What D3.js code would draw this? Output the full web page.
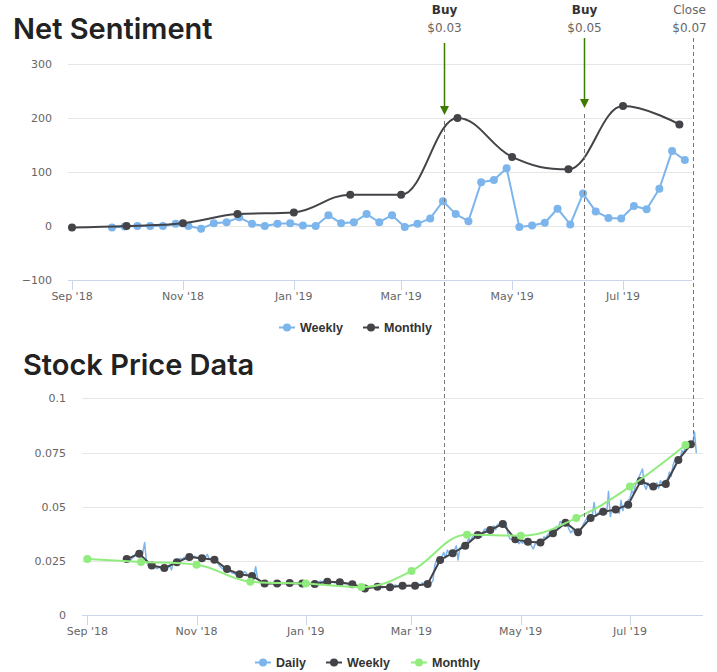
<!DOCTYPE html>
<html><head><meta charset="utf-8">
<script src="https://cdn.jsdelivr.net/npm/d3@7"></script>
<style>body{margin:0;background:#fff}svg{display:block}</style>
</head><body>
<svg id="c" width="717" height="672"></svg>
<script>
// ---------- DATA ----------
const monthDates = ["2018-09-01","2018-10-01","2018-11-01","2018-12-01","2019-01-01","2019-02-01","2019-03-01","2019-04-01","2019-05-01","2019-06-01","2019-07-01","2019-08-01"];
const sentimentMonthly = [-3, 0, 5, 22, 25, 58, 58, 200, 128, 105, 222, 188];
const weeklyStart = "2018-09-23";
const sentimentWeekly = [-3,-1,0,0,0,4,0,-5,5,7,16,4,0,4,5,1,0,20,5,7,22,7,20,-2,4,14,46,22,9,81,85,107,-2,1,6,32,3,60,27,15,14,37,31,69,139,122];
const priceMonthly = [0.0259,0.0246,0.0233,0.0155,0.0146,0.0130,0.0204,0.0371,0.0367,0.0448,0.0593,0.0785];
const priceWeekly = [0.0259,0.0284,0.0229,0.0218,0.0244,0.0269,0.0263,0.0256,0.0213,0.0189,0.0181,0.0147,0.0147,0.0149,0.0146,0.0144,0.0155,0.0152,0.0143,0.0124,0.0132,0.0129,0.0136,0.0136,0.0144,0.0255,0.0286,0.0320,0.0370,0.0393,0.0421,0.0350,0.0339,0.0335,0.0378,0.0427,0.0383,0.0448,0.0477,0.0487,0.0510,0.0619,0.0593,0.0605,0.0716,0.0788];
const dailyStart = "2018-09-24";
const priceDaily = [
 0.0255,0.0252,0.0262,0.0270,0.0284,
 0.0270,0.0290,0.0335,0.0250,0.0229,
 0.0226,0.0220,0.0215,0.0222,0.0218,
 0.0212,0.0220,0.0228,0.0209,0.0244,
 0.0250,0.0262,0.0258,0.0266,0.0269,
 0.0265,0.0270,0.0272,0.0266,0.0263,
 0.0262,0.0268,0.0281,0.0262,0.0256,
 0.0250,0.0238,0.0226,0.0218,0.0213,
 0.0208,0.0200,0.0195,0.0192,0.0189,
 0.0190,0.0196,0.0201,0.0192,0.0181,
 0.0183,0.0224,0.0172,0.0160,0.0147,
 0.0150,0.0146,0.0152,0.0149,0.0147,
 0.0148,0.0152,0.0150,0.0147,0.0149,
 0.0150,0.0148,0.0145,0.0147,0.0146,
 0.0145,0.0148,0.0150,0.0143,0.0144,
 0.0147,0.0152,0.0158,0.0153,0.0155,
 0.0156,0.0150,0.0154,0.0149,0.0152,
 0.0150,0.0147,0.0145,0.0146,0.0143,
 0.0140,0.0136,0.0130,0.0127,0.0124,
 0.0126,0.0130,0.0128,0.0133,0.0132,
 0.0134,0.0130,0.0127,0.0131,0.0129,
 0.0131,0.0135,0.0140,0.0133,0.0136,
 0.0138,0.0134,0.0137,0.0139,0.0136,
 0.0137,0.0145,0.0139,0.0150,0.0144,
 0.0146,0.0149,0.0160,0.0230,0.0255,
 0.0270,0.0290,0.0265,0.0300,0.0286,
 0.0300,0.0320,0.0255,0.0310,0.0320,
 0.0335,0.0355,0.0340,0.0362,0.0370,
 0.0375,0.0360,0.0385,0.0398,0.0393,
 0.0400,0.0412,0.0395,0.0418,0.0421,
 0.0430,0.0415,0.0370,0.0352,0.0350,
 0.0345,0.0330,0.0341,0.0332,0.0339,
 0.0335,0.0320,0.0306,0.0328,0.0335,
 0.0345,0.0362,0.0355,0.0372,0.0378,
 0.0390,0.0410,0.0400,0.0432,0.0427,
 0.0418,0.0395,0.0380,0.0392,0.0383,
 0.0385,0.0400,0.0420,0.0435,0.0448,
 0.0465,0.0520,0.0455,0.0470,0.0477,
 0.0482,0.0470,0.0570,0.0455,0.0487,
 0.0495,0.0470,0.0530,0.0482,0.0510,
 0.0540,0.0575,0.0560,0.0600,0.0619,
 0.0674,0.0600,0.0580,0.0610,0.0593,
 0.0595,0.0610,0.0585,0.0620,0.0605,
 0.0630,0.0660,0.0640,0.0690,0.0716,
 0.0720,0.0760,0.0745,0.0790,0.0788,
 0.0790,0.0845,0.0750
];
const xTickDates = ["2018-09-01","2018-11-01","2019-01-01","2019-03-01","2019-05-01","2019-07-01"];
const xTickLabels = ["Sep '18","Nov '18","Jan '19","Mar '19","May '19","Jul '19"];
const sentimentTicks = [-100, 0, 100, 200, 300];
const priceTicks = [0, 0.025, 0.05, 0.075, 0.1];
const annLabels = ["Buy", "Buy", "Close"];
const annPrices = ["$0.03", "$0.05", "$0.07"];
const annDates = ["2019-03-24T14:00", "2019-06-09T14:00", "2019-08-08T14:00"];
const annEndPrice = [0.038, 0.045, 0.079];

// ---------- SETUP ----------
const parse = d3.timeParse("%Y-%m-%d");
const parseT = d3.timeParse("%Y-%m-%dT%H:%M");
const mDates = monthDates.map(parse);
const wDates = sentimentWeekly.map((_, i) => d3.timeDay.offset(parse(weeklyStart), 7 * i));
const dDates = [];
{ let d = parse(dailyStart); while (dDates.length < priceDaily.length) { const wd = d.getDay(); if (wd !== 0 && wd !== 6) dDates.push(d); d = d3.timeDay.offset(d, 1); } }

const svg = d3.select("#c");
const AX = "DejaVu Sans, sans-serif";
const C_BLUE = "#7cb5ec", C_DARK = "#434348", C_GREEN = "#90ed7d";

const xTop = d3.scaleTime().domain([parse("2018-09-01"), parse("2019-07-01")]).range([72, 623]);
const yTop = d3.scaleLinear().domain([-100, 300]).range([280, 64]);
const xBot = d3.scaleTime().domain([parse("2018-09-01"), parse("2019-07-01")]).range([87.3, 630]);
const yBot = d3.scaleLinear().domain([0, 0.1]).range([615.3, 398.3]);

function hcSpline(pts) {
  const sm = 1.5, den = 2.5;
  const ctrl = pts.map((p, i) => {
    const prev = pts[i - 1], next = pts[i + 1];
    if (!prev || !next) return { lx: p[0], ly: p[1], rx: p[0], ry: p[1] };
    let lx = (sm * p[0] + prev[0]) / den, ly = (sm * p[1] + prev[1]) / den;
    let rx = (sm * p[0] + next[0]) / den, ry = (sm * p[1] + next[1]) / den;
    if (rx !== lx) { const c = ((ry - ly) * (rx - p[0])) / (rx - lx) + p[1] - ry; ly += c; ry += c; }
    if (ly > prev[1] && ly > p[1]) { ly = Math.max(prev[1], p[1]); ry = 2 * p[1] - ly; }
    else if (ly < prev[1] && ly < p[1]) { ly = Math.min(prev[1], p[1]); ry = 2 * p[1] - ly; }
    if (ry > next[1] && ry > p[1]) { ry = Math.max(next[1], p[1]); ly = 2 * p[1] - ry; }
    else if (ry < next[1] && ry < p[1]) { ry = Math.min(next[1], p[1]); ly = 2 * p[1] - ry; }
    return { lx, ly, rx, ry };
  });
  let d = `M${pts[0][0]},${pts[0][1]}`;
  for (let i = 1; i < pts.length; i++) {
    const a = ctrl[i - 1], b = ctrl[i];
    d += `C${a.rx},${a.ry},${b.lx},${b.ly},${pts[i][0]},${pts[i][1]}`;
  }
  return d;
}

function drawAxes(g, x, y, ticks, fmt, x0, x1, labelX) {
  g.selectAll(".grid").data(ticks.slice(1)).join("line")
    .attr("x1", x0).attr("x2", x1).attr("y1", d => Math.round(y(d)) + 0.5).attr("y2", d => Math.round(y(d)) + 0.5)
    .attr("stroke", "#e6e6e6");
  const yb = Math.round(y(ticks[0])) + 0.5;
  g.append("line").attr("x1", x0).attr("x2", x1).attr("y1", yb).attr("y2", yb).attr("stroke", "#ccd6eb");
  g.selectAll(".yl").data(ticks).join("text")
    .attr("x", labelX).attr("y", d => y(d) + 4).attr("text-anchor", "end")
    .attr("font-family", AX).attr("font-size", 11).attr("fill", "#666").text(fmt);
  const td = xTickDates.map(parse);
  g.selectAll(".tk").data(td).join("line")
    .attr("x1", d => Math.round(x(d)) + 0.5).attr("x2", d => Math.round(x(d)) + 0.5)
    .attr("y1", yb).attr("y2", yb + 9.5).attr("stroke", "#ccd6eb");
  g.selectAll(".xl").data(td).join("text")
    .attr("x", d => x(d)).attr("y", yb + 19.5).attr("text-anchor", "middle")
    .attr("font-family", AX).attr("font-size", 11).attr("fill", "#666").text((d, i) => xTickLabels[i]);
}

function drawSeries(g, pts, color, opts) {
  const d = opts.spline ? hcSpline(pts) : d3.line()(pts);
  g.append("path").attr("d", d).attr("fill", "none").attr("stroke", color)
    .attr("stroke-width", opts.width || 2).attr("stroke-linejoin", "round").attr("stroke-linecap", "round");
  if (opts.markers) {
    g.selectAll(null).data(pts).join("circle").attr("cx", p => p[0]).attr("cy", p => p[1]).attr("r", 4).attr("fill", color);
  }
}

function legend(g, items, y) {
  items.forEach(it => {
    g.append("line").attr("x1", it.sx).attr("x2", it.sx + 16).attr("y1", y).attr("y2", y).attr("stroke", it.color).attr("stroke-width", 2);
    g.append("circle").attr("cx", it.sx + 8).attr("cy", y).attr("r", 4).attr("fill", it.color);
    g.append("text").attr("x", it.sx + 21).attr("y", y + 4.5).attr("font-family", "Liberation Sans, Arial, sans-serif")
      .attr("font-weight", "bold").attr("font-size", 12.5).attr("fill", "#333").text(it.name);
  });
}

// ---------- TITLES ----------
svg.append("text").attr("x", 13).attr("y", 39).attr("font-family", "Inter, sans-serif").attr("font-weight", 600)
  .attr("font-size", 29).attr("fill", "#222").text("Net Sentiment");
svg.append("text").attr("x", 23).attr("y", 375).attr("font-family", "Inter, sans-serif").attr("font-weight", 600)
  .attr("font-size", 29).attr("fill", "#222").text("Stock Price Data");

// ---------- AXES ----------
const gTop = svg.append("g"), gBot = svg.append("g");
drawAxes(gTop, xTop, yTop, sentimentTicks, d3.format(""), 68, 692, 52);
drawAxes(gBot, xBot, yBot, priceTicks, d3.format(""), 82, 703, 66);

// ---------- ANNOTATION DASHED LINES ----------
const gAnn = svg.append("g");
const aDates = annDates.map(parseT);
const arrowTips = [115, 108, null];
aDates.forEach((d, i) => {
  const x = Math.round(xTop(d)) + 0.5;
  const yStart = arrowTips[i] ? arrowTips[i] + 6 : 38;
  gAnn.append("line").attr("x1", x).attr("x2", x).attr("y1", yStart).attr("y2", yBot(annEndPrice[i]))
    .attr("stroke", "#777").attr("stroke-width", 1).attr("stroke-dasharray", "4,3");
});

// ---------- SERIES ----------
drawSeries(gTop, sentimentWeekly.map((v, i) => [xTop(wDates[i]), yTop(v)]), C_BLUE, { markers: true });
drawSeries(gTop, sentimentMonthly.map((v, i) => [xTop(mDates[i]), yTop(v)]), C_DARK, { markers: true, spline: true });

drawSeries(gBot, priceDaily.map((v, i) => [xBot(dDates[i]), yBot(v)]), C_BLUE, { width: 1.5 });
drawSeries(gBot, priceWeekly.map((v, i) => [xBot(wDates[i]), yBot(v)]), C_DARK, { markers: true });
drawSeries(gBot, priceMonthly.map((v, i) => [xBot(mDates[i]), yBot(v)]), C_GREEN, { markers: true, spline: true });

// ---------- ANNOTATION LABELS & ARROWS ----------
aDates.forEach((d, i) => {
  const x = Math.round(xTop(d)) + 0.5;
  const isBuy = annLabels[i] === "Buy";
  const cx = isBuy ? x : x - 4;
  gAnn.append("text").attr("x", cx).attr("y", 14).attr("text-anchor", "middle").attr("font-family", AX)
    .attr("font-size", isBuy ? 12 : 12).attr("font-weight", isBuy ? "bold" : "normal")
    .attr("fill", isBuy ? "#333" : "#666").text(annLabels[i]);
  gAnn.append("text").attr("x", cx).attr("y", 32).attr("text-anchor", "middle").attr("font-family", AX)
    .attr("font-size", 12).attr("fill", "#666").text(annPrices[i]);
  if (arrowTips[i]) {
    const tip = arrowTips[i];
    const top = i === 0 ? 43 : 38;
    gAnn.append("line").attr("x1", x).attr("x2", x).attr("y1", top).attr("y2", tip - 8)
      .attr("stroke", "#3d7a00").attr("stroke-width", 1.5);
    gAnn.append("path").attr("d", `M${x - 4.5},${tip - 9}L${x + 4.5},${tip - 9}L${x},${tip}Z`).attr("fill", "#3d7a00");
  }
});

// ---------- LEGENDS ----------
legend(svg.append("g"), [
  { name: "Weekly", color: C_BLUE, sx: 279 },
  { name: "Monthly", color: C_DARK, sx: 363 }
], 327.5);
legend(svg.append("g"), [
  { name: "Daily", color: C_BLUE, sx: 255 },
  { name: "Weekly", color: C_DARK, sx: 326 },
  { name: "Monthly", color: C_GREEN, sx: 411 }
], 662.5);
</script>
</body></html>
